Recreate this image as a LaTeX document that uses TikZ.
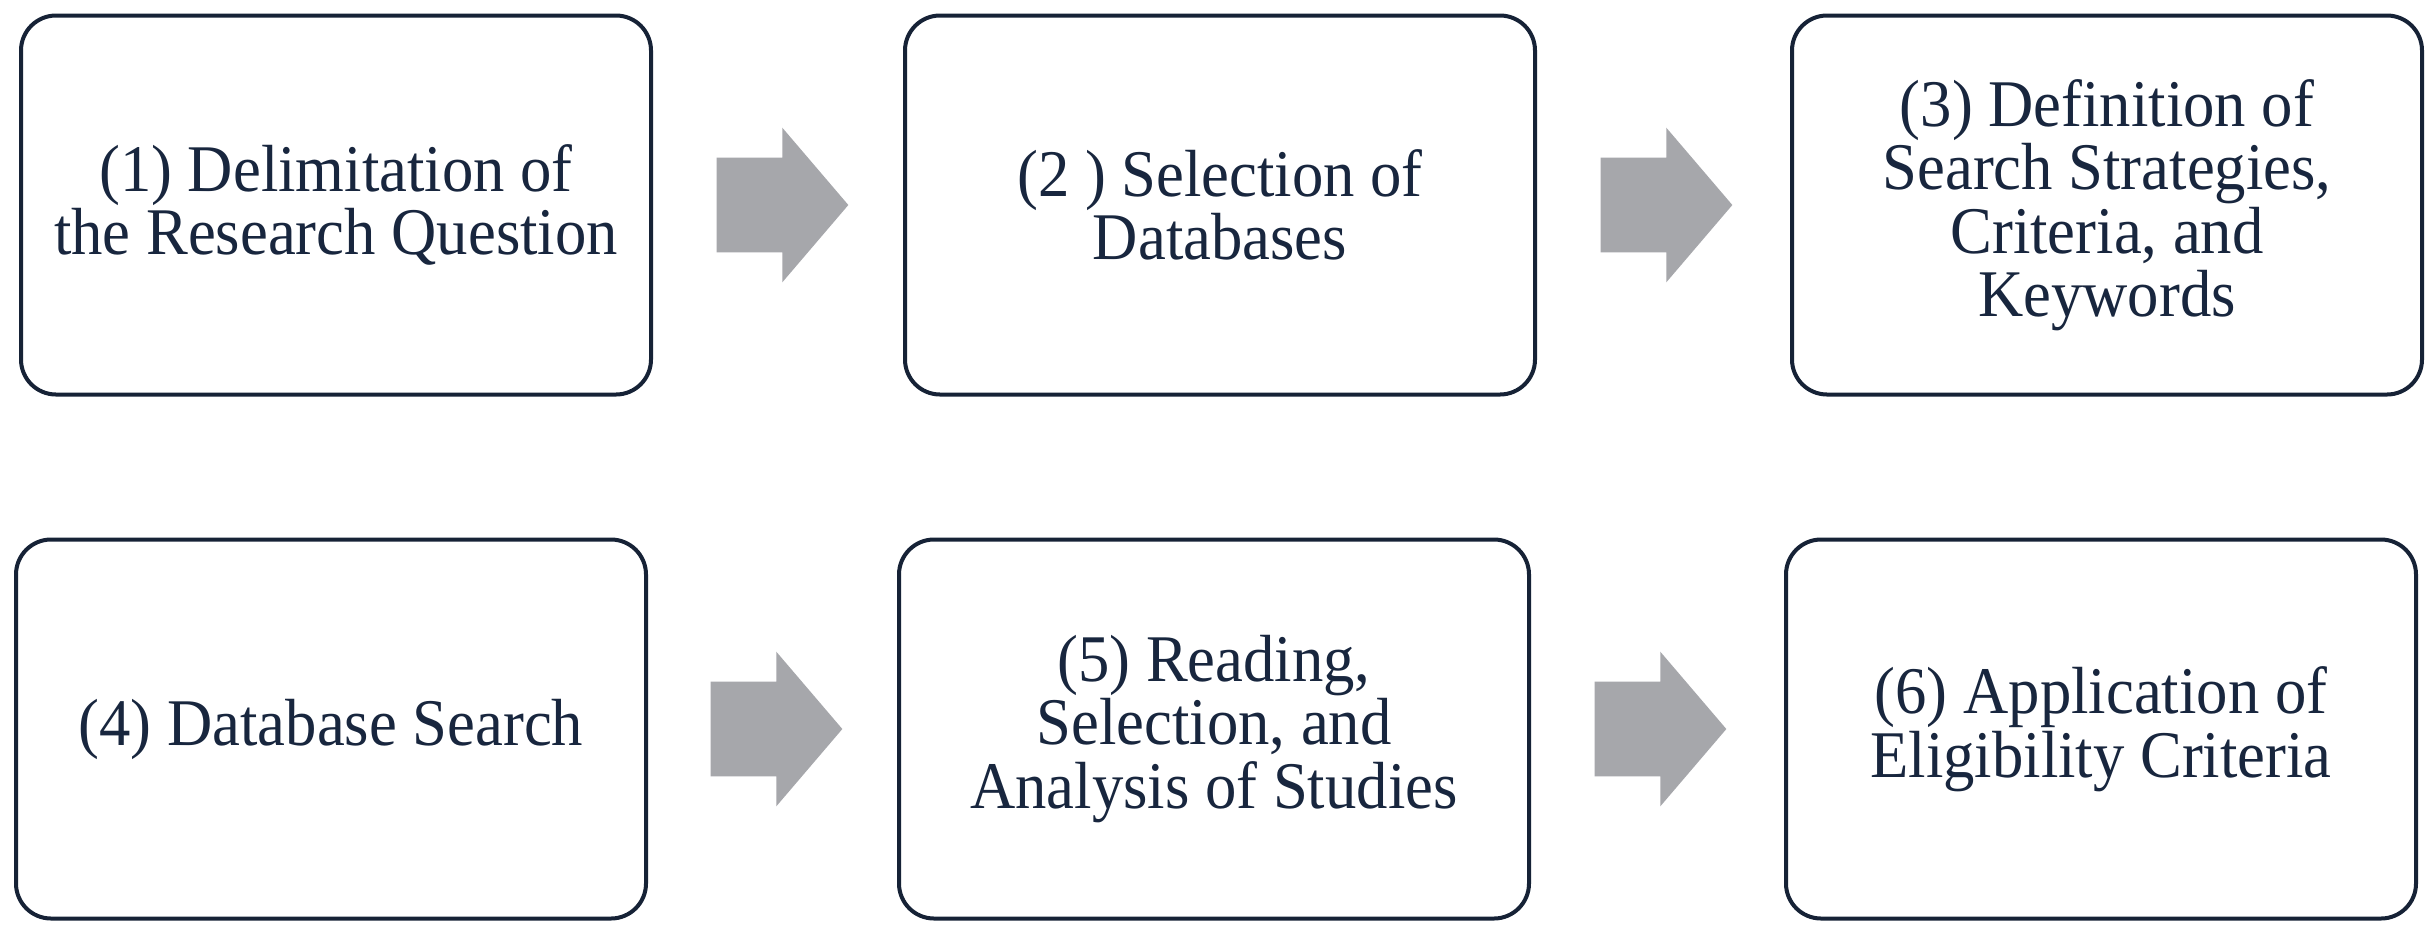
\documentclass[tikz,border=0pt]{standalone}
\usepackage{fontspec}
\setmainfont{Liberation Serif}
\newfontfamily\boxfont[FakeStretch=0.94]{Liberation Serif}
\newcommand\boxtextfont{\boxfont\fontsize{20pt}{19.05pt}\selectfont\lineskiplimit=-100pt\relax}
\usetikzlibrary{shapes.arrows,calc}
\definecolor{boxline}{RGB}{22,34,54}
\definecolor{boxtext}{RGB}{24,38,62}
\definecolor{arrowgray}{RGB}{166,167,171}
\begin{document}
\begin{tikzpicture}[x=0.3pt,y=-0.3pt,
  stepbox/.style={draw=boxline, line width=1.2pt, rounded corners=10.5pt,
    minimum width=189pt, minimum height=113.7pt, inner sep=0pt,
    text=boxtext, align=center, font=\boxtextfont},
  blockarrow/.style={single arrow, fill=arrowgray, draw=none,
    minimum height=39.5pt, inner xsep=0pt, inner ysep=14pt,
    single arrow head extend=9pt,
    single arrow tip angle=99, anchor=tail}]
\fill[white] (0,0) rectangle (2435,933);
\useasboundingbox (0,0) rectangle (2435,933);
\node[stepbox] (b1) at (336,205) {(1) Delimitation of\\the Research Question};
\node[stepbox] (b2) at (1220,205) {(2 ) Selection of\\Databases};
\node[stepbox] (b3) at (2107,205) {(3) Definition of\\Search Strategies,\\Criteria, and\\Keywords};
\node[stepbox] (b4) at (331,729) {(4) Database Search};
\node[stepbox] (b5) at (1214,729) {(5) Reading,\\Selection, and\\Analysis of Studies};
\node[stepbox] (b6) at (2101,729) {(6) Application of\\Eligibility Criteria};
\node[blockarrow] (a12) at ($(b1.east)+(63,0)$) {};
\node[blockarrow] (a23) at ($(b2.east)+(63,0)$) {};
\node[blockarrow] (a45) at ($(b4.east)+(62,0)$) {};
\node[blockarrow] (a56) at ($(b5.east)+(63,0)$) {};
\end{tikzpicture}
\end{document}
